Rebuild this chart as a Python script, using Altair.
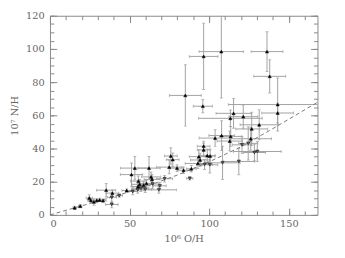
import altair as alt
import pandas as pd

# ---- data ----
x = [85.0, 96.5, 107.6, 96.0, 136.3, 138.0, 143.0, 143.0, 115.3, 113.3, 121.4, 131.4, 126.7,
     107.8, 103.7, 113.5, 112.9, 126.1, 120.6, 124.5, 128.4, 130.2, 118.6, 108.4, 100.4, 97.1,
     96.5, 96.5, 98.8, 100.6, 93.5, 94.3, 92.9, 87.8, 88.8, 83.9, 79.8, 75.9, 77.1, 74.9,
     72.0, 69.0, 68.4, 62.2, 63.5, 64.1, 64.5, 60.6, 58.8, 56.3, 55.5, 55.3, 57.1, 59.8,
     55.1, 53.3, 51.2, 52.0, 48.2, 43.5, 38.8, 39.2, 35.3, 38.8, 33.3, 31.2, 29.4, 27.6,
     24.7, 25.7, 19.0, 15.5]
y = [72.0, 95.5, 98.4, 65.5, 98.4, 83.5, 66.5, 61.4, 61.2, 58.2, 59.2, 54.3, 51.8,
     47.8, 46.3, 47.3, 44.5, 45.9, 42.2, 43.1, 37.6, 38.2, 32.2, 31.4, 30.2, 30.4,
     41.4, 39.2, 35.7, 35.5, 35.1, 33.1, 31.0, 22.0, 27.8, 26.9, 28.2, 35.5, 33.3, 28.8,
     21.8, 17.5, 15.1, 28.2, 22.9, 21.4, 18.6, 19.0, 18.0, 18.4, 20.4, 17.1, 16.1, 15.5,
     15.1, 28.2, 24.3, 14.1, 14.7, 11.6, 10.6, 13.1, 14.9, 6.3, 8.6, 9.0, 8.8, 7.8,
     10.2, 8.8, 5.3, 4.3]
xerr = [10.0, 9.0, 14.0, 6.0, 10.0, 10.0, 31.0, 10.0, 11.0, 20.0, 9.0, 12.0, 10.0,
        8.0, 10.0, 7.0, 8.0, 13.0, 6.0, 6.0, 7.0, 15.0, 10.0, 11.0, 5.0, 5.0,
        4.0, 4.0, 5.0, 3.0, 6.0, 6.0, 8.0, 2.0, 3.0, 4.0, 4.0, 4.0, 4.0, 8.0,
        5.0, 4.0, 11.0, 7.0, 6.0, 5.0, 4.0, 4.0, 4.0, 5.0, 5.0, 4.0, 5.0, 4.0,
        4.0, 9.0, 7.0, 3.0, 3.0, 2.0, 3.0, 4.0, 6.0, 4.0, 2.0, 2.0, 2.0, 2.0,
        2.0, 2.0, 1.0, 1.0]
yerr = [18.5, 20.0, 28.0, 4.0, 12.0, 10.0, 16.0, 6.0, 9.0, 5.0, 7.0, 9.0, 10.0,
        9.0, 5.0, 6.0, 6.0, 7.0, 5.0, 10.0, 5.0, 6.0, 8.0, 10.0, 5.0, 3.0,
        3.0, 4.0, 4.0, 4.0, 4.0, 4.0, 3.0, 1.0, 2.0, 2.0, 2.0, 5.0, 4.0, 4.0,
        2.0, 2.0, 2.0, 7.0, 3.0, 3.0, 3.0, 2.0, 2.0, 3.0, 3.0, 2.0, 2.0, 2.0,
        2.0, 7.0, 7.0, 2.0, 1.0, 1.0, 3.0, 2.0, 4.0, 2.0, 1.0, 1.0, 1.0, 2.0,
        2.0, 1.0, 1.0, 1.0]
kind = ["up"] * 18 + ["down"] * 8 + ["up"] * 7 + ["down"] + ["up"] * 6 + ["down"] * 3 + \
       ["up"] * 3 + ["down"] + ["up"] * 5 + ["down"] * 3 + ["up"] * 2 + ["down", "up", "down", "down", "up", "up", "down"] + \
       ["up"] * 8

curve_x = [0, 20, 40, 60, 80, 100, 120, 140, 170]
curve_y = [0, 5.5, 11, 17, 24, 32, 41, 52, 69]

x_major = [0, 50, 100, 150]
x_minor = [0, 10, 20, 30, 40, 50, 60, 70, 80, 90, 100, 110, 120, 130, 140, 150, 160]
y_major = [0, 20, 40, 60, 80, 100, 120]
y_minor = [0, 5, 10, 15, 20, 25, 30, 35, 40, 45, 50, 55, 60, 65, 70, 75, 80, 85, 90,
           95, 100, 105, 110, 115, 120]

n = min(len(x), len(y), len(xerr), len(yerr), len(kind))
df = pd.DataFrame({"x": x[:n], "y": y[:n], "xerr": xerr[:n], "yerr": yerr[:n], "kind": kind[:n]})
df["xlo"] = df["x"] - df["xerr"]
df["xhi"] = df["x"] + df["xerr"]
df["ylo"] = df["y"] - df["yerr"]
df["yhi"] = df["y"] + df["yerr"]
curve = pd.DataFrame({"cx": curve_x, "cy": curve_y})

FONT = "DejaVu Serif"
GREY = "#666666"
XS = alt.Scale(domain=[0, 168], nice=False, zero=False)
YS = alt.Scale(domain=[0, 120], nice=False, zero=False)


def ax(orient, values, size, labels=False, title=None, pad=5, tpad=5):
    kw = dict(orient=orient, values=values, offset=-size, tickSize=size, domain=False,
              grid=False, labels=labels, tickColor="#888888", tickWidth=1,
              labelFont=FONT, labelFontSize=10, labelColor=GREY, labelPadding=pad,
              titleFont=FONT, titleFontSize=10, titleColor=GREY, titleFontWeight="normal",
              titlePadding=tpad, title=title)
    return alt.Axis(**kw)


base = alt.Chart(df)

xbars = base.mark_rule(color="#a0a0a0", strokeWidth=1, clip=True).encode(
    x=alt.X("xlo:Q", scale=XS, axis=ax("bottom", x_major, 7, True, "10⁶ O/H", 4, 5)),
    x2="xhi:Q",
    y=alt.Y("y:Q", scale=YS, axis=ax("left", y_major, 7, True, "10⁷ N/H", 6, 6)),
)
ybars = base.mark_rule(color="#a0a0a0", strokeWidth=1, clip=True).encode(
    x=alt.X("x:Q", scale=XS, axis=ax("bottom", x_minor, 4)),
    y=alt.Y("ylo:Q", scale=YS, axis=ax("left", y_minor, 4)),
    y2="yhi:Q",
)
xcaps = base.transform_fold(["xlo", "xhi"]).mark_tick(
    color="#a0a0a0", orient="vertical", size=3, thickness=1, clip=True).encode(
    x=alt.X("value:Q", scale=XS, axis=ax("top", x_major, 7)),
    y=alt.Y("y:Q", scale=YS, axis=ax("right", y_major, 7)),
)
ycaps = base.transform_fold(["ylo", "yhi"]).mark_tick(
    color="#a0a0a0", orient="horizontal", size=3, thickness=1, clip=True).encode(
    x=alt.X("x:Q", scale=XS, axis=ax("top", x_minor, 4)),
    y=alt.Y("value:Q", scale=YS, axis=ax("right", y_minor, 4)),
)
line = alt.Chart(curve).mark_line(color="#777777", strokeDash=[4, 3], strokeWidth=1, clip=True).encode(
    x=alt.X("cx:Q", scale=XS, axis=None),
    y=alt.Y("cy:Q", scale=YS, axis=None),
)
points = base.mark_point(filled=True, size=11, opacity=1, stroke="black", strokeWidth=0.5).encode(
    x=alt.X("x:Q", scale=XS, axis=None),
    y=alt.Y("y:Q", scale=YS, axis=None),
    shape=alt.Shape("kind:N", scale=alt.Scale(domain=["up", "down"], range=["triangle-up", "triangle-down"]), legend=None),
    fill=alt.Fill("kind:N", scale=alt.Scale(domain=["up", "down"], range=["#000000", "#666666"]), legend=None),
)

chart = alt.layer(xbars, ybars, xcaps, ycaps, line, points).resolve_axis(
    x="independent", y="independent"
).properties(
    width=274, height=204,
    autosize=alt.AutoSizeParams(type="none"),
    padding={"left": 43, "top": 5, "right": 20, "bottom": 33},
    background="white",
).configure_view(stroke="#888888", strokeWidth=1)

chart.save("out.html", embed_options={"renderer": "svg", "actions": False})
